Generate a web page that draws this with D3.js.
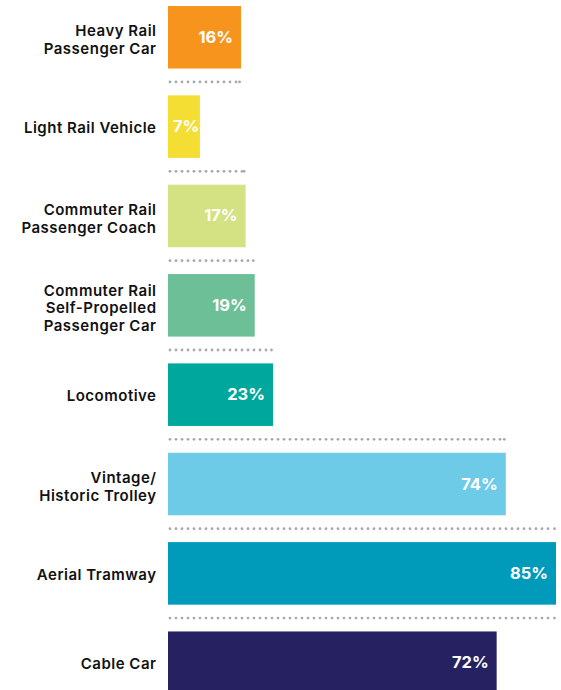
<!DOCTYPE html>
<html>
<head>
<meta charset="utf-8">
<script src="https://cdn.jsdelivr.net/npm/d3@7"></script>
<style>
  html, body { margin: 0; padding: 0; background: #fff; }
  svg { display: block; }
  .lbl { font-family: "Inter", "Open Sans", sans-serif; font-weight: 600; fill: #111; letter-spacing: 0.5px; }
  .val { font-family: "Inter", "Open Sans", sans-serif; font-weight: 700; fill: #fff; }
</style>
</head>
<body>
<svg id="chart" width="561" height="690"></svg>
<script>
const categories = [
  ["Heavy Rail", "Passenger Car"],
  ["Light Rail Vehicle"],
  ["Commuter Rail", "Passenger Coach"],
  ["Commuter Rail", "Self-Propelled", "Passenger Car"],
  ["Locomotive"],
  ["Vintage/", "Historic Trolley"],
  ["Aerial Tramway"],
  ["Cable Car"]
];
const values = [16, 7, 17, 19, 23, 74, 85, 72];
const colors = ["#F7941D", "#F4DE33", "#D4E283", "#6DBF97", "#00A79D", "#6DCBE7", "#009ABB", "#262262"];

const svg = d3.select("#chart");
const left = 168;
const x = d3.scaleLinear().domain([0, 85]).range([left, 556]);
const y = d3.scaleBand().domain(d3.range(values.length)).range([6, 694]).paddingInner(0.3).paddingOuter(0);

const data = values.map((v, i) => ({ i, v, lines: categories[i], color: colors[i] }));

// bars
svg.selectAll("rect.bar").data(data).join("rect")
  .attr("class", "bar")
  .attr("x", x(0))
  .attr("y", d => y(d.i))
  .attr("width", d => x(d.v) - x(0))
  .attr("height", y.bandwidth())
  .attr("fill", d => d.color);

// value labels
svg.selectAll("text.val").data(data).join("text")
  .attr("class", "val")
  .attr("y", d => y(d.i) + y.bandwidth() / 2 + 5.5)
  .attr("text-anchor", "end")
  .attr("font-size", 16.5)
  .text(d => d.v + "%")
  .each(function(d) {
    const w = this.getComputedTextLength();
    let xe = x(d.v) - 8;
    if (xe - w < left + 5) xe = left + 5 + w;
    d3.select(this).attr("x", xe);
  });

// category labels
const step = 17.6;
const g = svg.selectAll("text.lbl").data(data).join("text")
  .attr("class", "lbl")
  .attr("text-anchor", "end")
  .attr("font-size", 15);
g.each(function(d) {
  const n = d.lines.length;
  const c = y(d.i) + y.bandwidth() / 2 + 6.5;
  const first = c - step * (n - 1) / 2 + (n > 1 ? 1.5 : 0);
  d3.select(this).selectAll("tspan").data(d.lines).join("tspan")
    .attr("x", 156.5)
    .attr("y", (t, k) => first + k * step)
    .text(t => t);
});

// dotted separators
const seps = d3.range(values.length - 1).map(i => ({
  yPos: y(i) + y.bandwidth() + (y.step() - y.bandwidth()) / 2,
  end: x(Math.max(values[i], values[i + 1]))
}));
seps.forEach(s => {
  const pts = d3.range(170, s.end - 3, 6);
  pts.push(s.end - 1.5);
  svg.append("g").selectAll("circle").data(pts).join("circle")
    .attr("cx", p => p)
    .attr("cy", s.yPos)
    .attr("r", 1.4)
    .attr("fill", "#a7a9ac");
});
</script>
</body>
</html>
